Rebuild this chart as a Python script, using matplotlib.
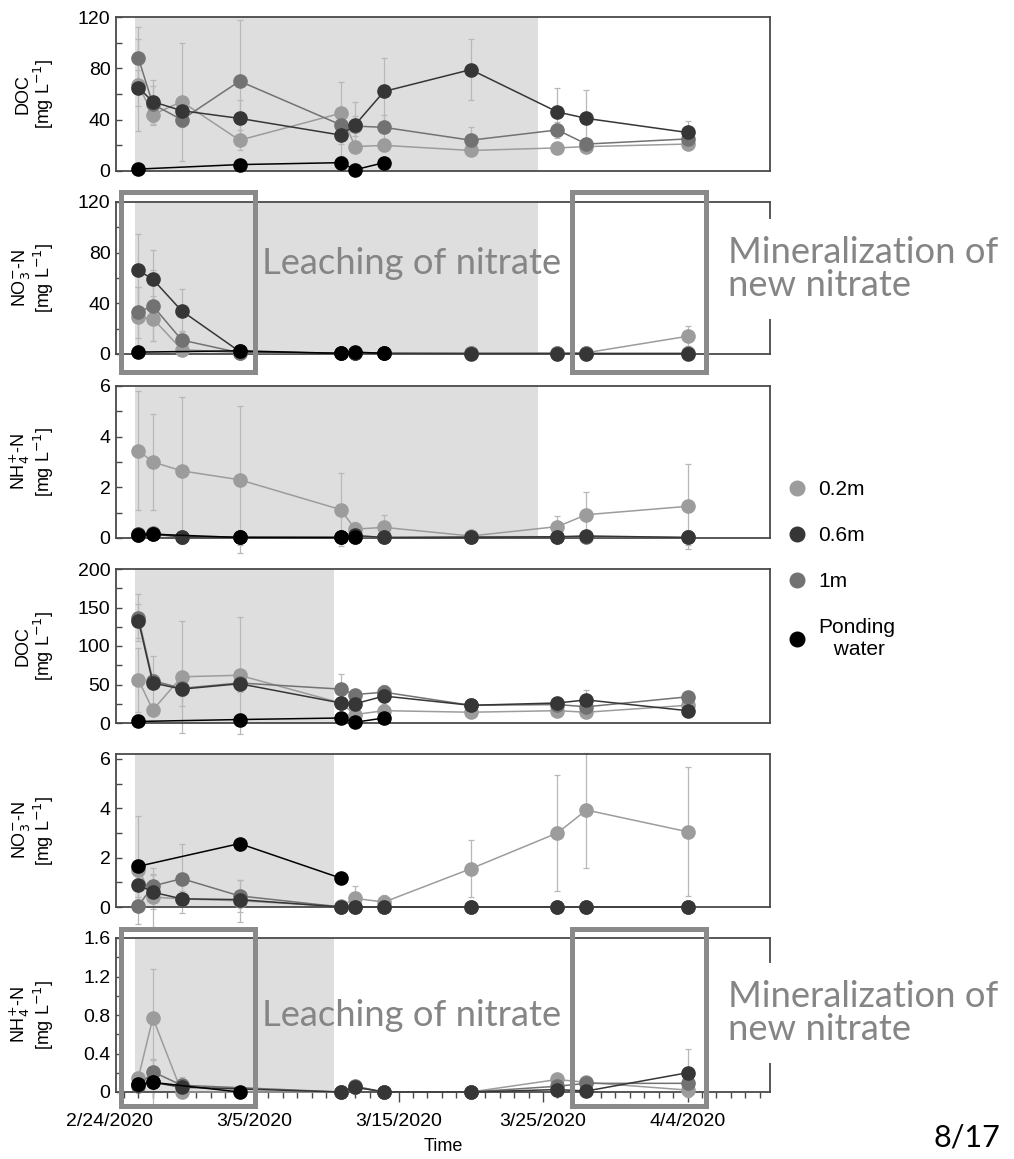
import numpy as np
import matplotlib
matplotlib.use("Agg")
import matplotlib.pyplot as plt
import matplotlib.dates as mdates
from matplotlib.patches import Rectangle
from matplotlib.lines import Line2D
from matplotlib.ticker import MultipleLocator, FuncFormatter
import datetime as dt

nan = np.nan

# ---------------- data ----------------
sample_dates = ["2020-02-26", "2020-02-27", "2020-02-29", "2020-03-04", "2020-03-11",
                "2020-03-12", "2020-03-14", "2020-03-20", "2020-03-26", "2020-03-28", "2020-04-04"]
series_names = ["0.2m", "0.6m", "1m", "Ponding\n water"]

# Panel 1: DOC (upper site)
doc1_02 = [67, 44, 54, 24, 45, 19, 20, 16, 18, 19, 21]
doc1_06 = [65, 54, 47, 41, 28, 36, 62, 79, 46, 41, 30]
doc1_1 = [88, 52, 40, 70, 36, 35, 34, 24, 32, 21, 25]
doc1_pw = [1.5, nan, nan, 5, 6.5, 1, 6.5, nan, nan, nan, nan]
doc1_02_err = [36, 8, 46, 8, 24, 3, 3, 3, 3, 3, 2]
doc1_06_err = [14, 17, 8, 14, 16, 18, 26, 24, 19, 22, 9]
doc1_1_err = [24, 14, 6, 48, 10, 8, 10, 10, 6, 4, 3]

# Panel 2: NO3-N (upper site)
no1_02 = [29, 28, 3.5, 1, 0.5, 0.5, 0.5, 0.5, 0.5, 1, 14]
no1_06 = [66, 59, 34, 2, 0.5, 1, 0.5, 0.3, 0.3, 0.3, 0.3]
no1_1 = [33, 38, 11, 1, 0.5, 0.5, 0.5, 0.5, 0.5, 0.5, 0.5]
no1_pw = [1.5, nan, nan, 2.5, 0.5, 1.5, 0.5, nan, nan, nan, nan]
no1_02_err = [24, 18, 2, 1, 0, 0, 0, 0, 0, 0, 8]
no1_06_err = [29, 23, 17, 1, 0, 0, 0, 0, 0, 0, 0]
no1_1_err = [20, 28, 7, 1, 0, 0, 0, 0, 0, 0, 0]

# Panel 3: NH4-N (upper site)
nh1_02 = [3.45, 3.0, 2.65, 2.3, 1.12, 0.35, 0.42, 0.08, 0.45, 0.92, 1.25]
nh1_06 = [0.15, 0.15, 0.05, 0.03, 0.02, 0.1, 0.02, 0.02, 0.05, 0.08, 0.02]
nh1_1 = [0.12, 0.18, 0.05, 0.02, 0.02, 0.05, 0.02, 0.05, 0.05, 0.05, 0.02]
nh1_pw = [0.12, 0.15, nan, 0.02, 0.02, 0.02, nan, nan, nan, nan, nan]
nh1_02_err = [2.35, 1.9, 2.9, 2.9, 1.45, 0.3, 0.5, 0.05, 0.42, 0.88, 1.68]
nh1_06_err = [0.05, 0.05, 0.02, 0.3, 0.02, 0.05, 0.02, 0.02, 0.02, 0.02, 0.3]
nh1_1_err = [0.05, 0.05, 0.02, 0.02, 0.02, 0.02, 0.02, 0.02, 0.02, 0.02, 0.02]

# Panel 4: DOC (lower site)
doc2_02 = [56, 17, 60, 62, 26, 11, 16, 14, 16, 14, 23]
doc2_06 = [133, 52, 44, 51, 26, 25, 35, 23, 26, 30, 16]
doc2_1 = [137, 55, 45, 52, 44, 37, 40, 23, 24, 21, 34]
doc2_pw = [2, nan, nan, 4.5, 6.5, 1, 6.5, nan, nan, nan, nan]
doc2_02_err = [42, 3, 73, 76, 5, 4, 3, 3, 3, 3, 5]
doc2_06_err = [22, 35, 22, 10, 5, 5, 10, 8, 5, 13, 4]
doc2_1_err = [30, 8, 10, 12, 20, 6, 10, 5, 5, 5, 5]

# Panel 5: NO3-N (lower site)
no2_02 = [1.5, 0.4, 0.33, 0.25, 0.03, 0.35, 0.2, 1.55, 3.0, 3.93, 3.05]
no2_06 = [0.9, 0.6, 0.33, 0.3, 0.0, 0.0, 0.0, 0.0, 0.0, 0.0, 0.0]
no2_1 = [0.05, 0.85, 1.15, 0.45, 0.0, 0.0, 0.0, 0.0, 0.0, 0.0, 0.0]
no2_pw = [1.65, nan, nan, 2.57, 1.17, nan, nan, nan, nan, nan, nan]
no2_02_err = [2.2, 1.2, 0.3, 0.85, 0.05, 0.5, 0.3, 1.15, 2.35, 2.33, 2.62]
no2_06_err = [0.5, 0.7, 0.2, 0.2, 0, 0, 0, 0, 0, 0, 0]
no2_1_err = [0.1, 0.5, 1.4, 0.65, 0, 0, 0, 0, 0, 0, 0]

# Panel 6: NH4-N (lower site)
nh2_02 = [0.15, 0.77, 0.0, nan, 0.0, 0.05, 0.0, 0.0, 0.13, 0.1, 0.02]
nh2_06 = [0.07, 0.1, 0.05, nan, 0.0, 0.05, 0.0, 0.0, 0.025, 0.01, 0.2]
nh2_1 = [0.06, 0.21, 0.07, nan, 0.0, 0.06, 0.0, 0.0, 0.06, 0.09, 0.09]
nh2_pw = [0.08, 0.1, nan, 0.0, nan, nan, nan, nan, nan, nan, nan]
nh2_02_err = [0.05, 0.51, 0.0, 0.0, 0.0, 0.02, 0.0, 0.0, 0.03, 0.02, 0.02]
nh2_06_err = [0.02, 0.24, 0.02, 0.0, 0.0, 0.0, 0.0, 0.0, 0.01, 0.01, 0.25]
nh2_1_err = [0.02, 0.12, 0.09, 0.0, 0.0, 0.02, 0.0, 0.0, 0.02, 0.02, 0.05]

ylabels = ["DOC\n[mg L$^{-1}$]", "NO$_3^{-}$-N\n[mg L$^{-1}$]", "NH$_4^{+}$-N\n[mg L$^{-1}$]",
           "DOC\n[mg L$^{-1}$]", "NO$_3^{-}$-N\n[mg L$^{-1}$]", "NH$_4^{+}$-N\n[mg L$^{-1}$]"]
ylims = [(0, 120), (0, 120), (0, 6), (0, 200), (0, 6.2), (0, 1.6)]
ymajor = [40, 40, 2, 50, 2, 0.4]
yminor = [20, 20, 1, 25, 1, 0.2]
shade_start = "2020-02-25 19:00"
shade_end = ["2020-03-24 15:00"] * 3 + ["2020-03-10 13:00"] * 3
xtick_dates = ["2020-03-05", "2020-03-15", "2020-03-25", "2020-04-04"]

panel_data = [
    (doc1_02, doc1_06, doc1_1, doc1_pw, doc1_02_err, doc1_06_err, doc1_1_err),
    (no1_02, no1_06, no1_1, no1_pw, no1_02_err, no1_06_err, no1_1_err),
    (nh1_02, nh1_06, nh1_1, nh1_pw, nh1_02_err, nh1_06_err, nh1_1_err),
    (doc2_02, doc2_06, doc2_1, doc2_pw, doc2_02_err, doc2_06_err, doc2_1_err),
    (no2_02, no2_06, no2_1, no2_pw, no2_02_err, no2_06_err, no2_1_err),
    (nh2_02, nh2_06, nh2_1, nh2_pw, nh2_02_err, nh2_06_err, nh2_1_err),
]

# ---------------- style ----------------
plt.rcParams["font.family"] = ["Liberation Sans", "DejaVu Sans"]
col = {"0.2m": "#9c9c9c", "0.6m": "#363636", "1m": "#727272", "pw": "#000000"}
err_col = "#b8b8b8"
spine_col = "#4a4a4a"
box_col = "#8a8a8a"
note_col = "#858585"
tick_fs = 14
xtick_len, xtick_pad = 7, 8

W, H = 1014, 1159
fig = plt.figure(figsize=(W / 100, H / 100), dpi=100)

def d2n(s):
    return mdates.date2num(np.datetime64(s).astype("datetime64[s]").astype(dt.datetime))

x = np.array([d2n(s) for s in sample_dates])
xlim = (d2n("2020-02-24 10:48"), d2n("2020-04-09 17:00"))

panel_px = [(17, 171), (202, 354), (386, 538), (569, 723), (754, 907), (938, 1092)]
ax_left, ax_right = 116, 770

axes = []
for i, (top, bot) in enumerate(panel_px):
    ax = fig.add_axes([ax_left / W, 1 - bot / H, (ax_right - ax_left) / W, (bot - top) / H])
    axes.append(ax)
    ax.set_xlim(*xlim)
    ax.set_ylim(*ylims[i])
    ax.axvspan(d2n(shade_start), d2n(shade_end[i]), color="#dedede", lw=0, zorder=0)
    v02, v06, v1, vpw, e02, e06, e1 = [np.array(a, dtype=float) for a in panel_data[i]]
    order = [(v02, e02, col["0.2m"]), (v1, e1, col["1m"]), (v06, e06, col["0.6m"]),
             (vpw, np.zeros_like(vpw), col["pw"])]
    for v, e, c in order:
        m = ~np.isnan(v)
        eb = ax.errorbar(x[m], v[m], yerr=e[m], fmt="none", ecolor=err_col,
                         elinewidth=0.9, capsize=2, capthick=0.9, zorder=2)
        for child in eb.get_children():
            child.set_clip_on(False)
    for v, e, c in order:
        m = ~np.isnan(v)
        ax.plot(x[m], v[m], "-", color=c, lw=1.1, marker="o", ms=9.5, mfc=c, mec=c,
                clip_on=False, zorder=3)
    for s in ax.spines.values():
        s.set_color(spine_col)
        s.set_linewidth(1.3)
    ax.yaxis.set_major_locator(MultipleLocator(ymajor[i]))
    ax.yaxis.set_minor_locator(MultipleLocator(yminor[i]))
    ax.yaxis.set_major_formatter(FuncFormatter(lambda v, p: f"{v:g}"))
    ax.tick_params(axis="y", which="both", direction="in", length=4, width=1,
                   color=spine_col, labelsize=tick_fs, pad=4)
    ax.set_ylabel(ylabels[i], fontsize=13, linespacing=1.0)
    ax.yaxis.set_label_coords(-0.092, 0.5)
    if i < 5:
        ax.tick_params(axis="x", which="both", bottom=False, labelbottom=False)
    else:
        ax.set_xticks([d2n(s) for s in xtick_dates])
        ax.set_xticklabels([f"{int(s[5:7])}/{int(s[8:10])}/{s[:4]}" for s in xtick_dates])
        ax.xaxis.set_minor_locator(mdates.DayLocator())
        ax.tick_params(axis="x", which="major", direction="out", length=xtick_len, width=1,
                       color=spine_col, labelsize=tick_fs, pad=xtick_pad)
        ax.tick_params(axis="x", which="minor", direction="out", length=4, width=1,
                       color=spine_col)
        # first date label lies just left of the plotted range
        off_px = (xtick_len + xtick_pad) * 100 / 72
        ax.text(d2n("2020-02-24"), -off_px / (bot - top), "2/24/2020",
                transform=ax.get_xaxis_transform(),
                ha="center", va="top", fontsize=tick_fs, clip_on=False)
        ax.set_xlabel("Time", fontsize=13, labelpad=6)

# ---------------- annotation boxes ----------------
def fig_rect(x0, y0, x1, y1):
    lw_px = 5
    r = Rectangle((x0 / W, 1 - y1 / H), (x1 - x0) / W, (y1 - y0) / H, transform=fig.transFigure,
                  fill=False, ec=box_col, lw=lw_px * 0.72, zorder=10)
    fig.add_artist(r)

for (y0, y1) in [(192.5, 371.5), (928.5, 1105.5)]:
    fig_rect(120.5, y0, 254.5, y1)
    fig_rect(572, y0, 705.5, y1)

note_font = ["Lato", "DejaVu Sans"]
note_fs = 26.2
for yc_leach, yc_min in [(264, 269), (1015, 1013)]:
    fig.text(262 / W, 1 - yc_leach / H, "Leaching of nitrate", ha="left", va="center",
             fontsize=note_fs, color=note_col, family=note_font, zorder=11)
    fig.text(728 / W, 1 - yc_min / H, "Mineralization of\nnew nitrate", ha="left", va="center",
             fontsize=note_fs, color=note_col, family=note_font, linespacing=1.02, zorder=11,
             bbox=dict(fc="white", ec="none", pad=12))

# ---------------- legend ----------------
handles = [Line2D([], [], ls="none", marker="o", ms=10.5, mfc=col[k], mec=col[k])
           for k in ["0.2m", "0.6m", "1m", "pw"]]
leg = fig.legend(handles, series_names, loc="upper left", bbox_to_anchor=(789 / W, 1 - 480 / H),
                 frameon=False, fontsize=15, handlelength=0.8, handletextpad=0.6,
                 labelspacing=1.3, borderaxespad=0, borderpad=0)
leg.get_texts()[3].set_multialignment("center")

fig.text(1000 / W, 1 - 1152 / H, "8/17", ha="right", va="bottom", fontsize=22,
         family=note_font, color="black")

fig.savefig("out.png", dpi=100)
